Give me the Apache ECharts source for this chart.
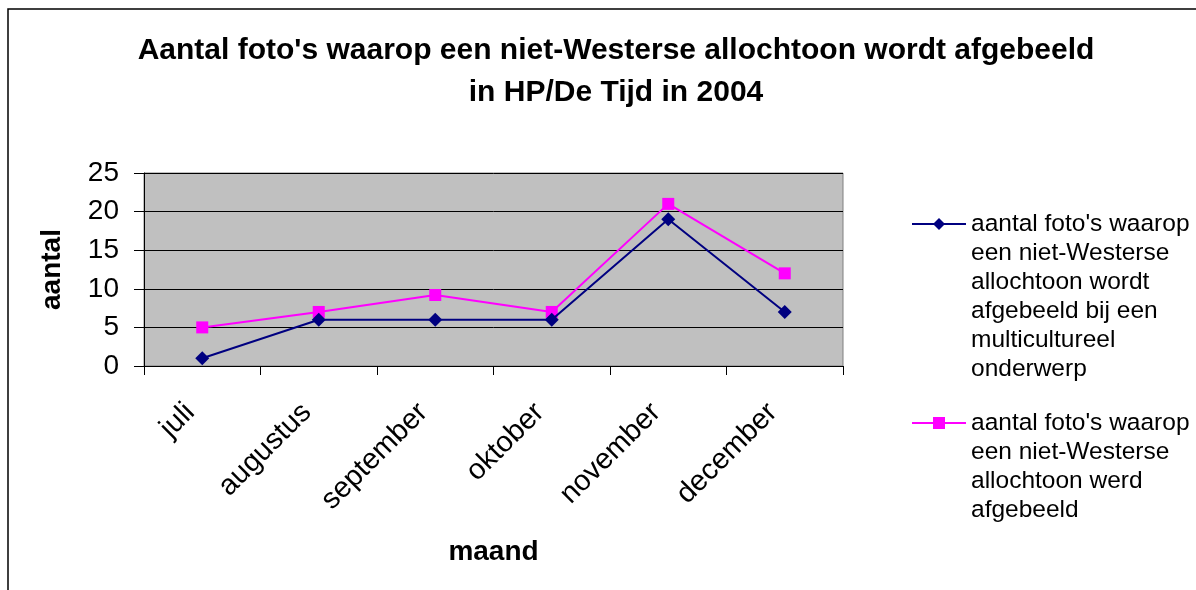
<!DOCTYPE html>
<html>
<head>
<meta charset="utf-8">
<script src="https://cdn.jsdelivr.net/npm/echarts@6/dist/echarts.min.js"></script>
<style>
    html, body { margin: 0; padding: 0; background: #fff; }
    #chart { width: 1196px; height: 590px; }
</style>
</head>
<body>
<div id="chart"></div>
<script>
// data
const months = ['juli', 'augustus', 'september', 'oktober', 'november', 'december'];
const multicultureel = [1, 6, 6, 6, 19, 7];
const totaal = [5, 7, 9.2, 7, 21, 12];
const yTicks = { min: 0, max: 25, interval: 5 };

const nameMulti = "aantal foto's waarop een niet-Westerse allochtoon wordt afgebeeld bij een multicultureel onderwerp";
const nameTotaal = "aantal foto's waarop een niet-Westerse allochtoon werd afgebeeld";

const legendLines = {
    [nameMulti]: ["aantal foto's waarop", "een niet-Westerse", "allochtoon wordt", "afgebeeld bij een", "multicultureel", "onderwerp"],
    [nameTotaal]: ["aantal foto's waarop", "een niet-Westerse", "allochtoon werd", "afgebeeld"]
};

const FONT = "'Liberation Sans', Arial, sans-serif";
const LH = 29;

// legend text gets centred on the icon, so pad it on top with empty lines
// until the first line sits next to the icon (like excel does)
function legendText(nm) {
    const lines = legendLines[nm];
    const blanks = new Array(lines.length - 1).fill(' ');
    return blanks.concat(lines).join('\n');
}

function legendBox(name, iconY) {
    const n = legendLines[name].length;
    const h = (2 * n - 1) * LH;
    return {
        show: true,
        orient: 'vertical',
        left: 911,
        top: iconY - h / 2,
        padding: 0,
        itemWidth: 54,
        itemHeight: 15,
        selectedMode: false,
        formatter: legendText,
        textStyle: {
            fontFamily: FONT,
            fontSize: 24.5,
            color: '#000',
            lineHeight: LH
        },
        data: [name]
    };
}

const chart = echarts.init(document.getElementById('chart'));

const option = {
    backgroundColor: '#fff',
    animation: false,
    title: {
        text: "Aantal foto's waarop een niet-Westerse allochtoon wordt afgebeeld\nin HP/De Tijd in 2004",
        left: 611,
        top: 25,
        textAlign: 'center',
        textStyle: {
            fontFamily: FONT,
            fontSize: 30,
            fontWeight: 'bold',
            color: '#000',
            lineHeight: 42
        }
    },
    legend: [legendBox(nameMulti, 224), legendBox(nameTotaal, 423)],
    graphic: [{
        type: 'rect',
        shape: { x: 8, y: 9, width: 1400, height: 800 },
        style: { fill: 'none', stroke: '#000', lineWidth: 1.5 },
        silent: true
    }],
    grid: {
        left: 144,
        right: 353,
        top: 173,
        bottom: 224,
        show: true,
        backgroundColor: '#C0C0C0',
        borderColor: '#808080',
        borderWidth: 1
    },
    xAxis: {
        type: 'category',
        data: months,
        boundaryGap: true,
        name: 'maand',
        nameLocation: 'middle',
        nameGap: 172,
        nameTextStyle: { fontFamily: FONT, fontSize: 28, fontWeight: 'bold', color: '#000' },
        axisLine: { lineStyle: { color: '#000', width: 1 } },
        axisTick: { show: true, length: 9, lineStyle: { color: '#000' } },
        axisLabel: {
            rotate: 45,
            margin: 30,
            interval: 0,
            padding: [0, 17, 0, 0],
            fontFamily: FONT,
            fontSize: 29,
            color: '#000'
        },
        splitLine: { show: false }
    },
    yAxis: {
        type: 'value',
        min: yTicks.min,
        max: yTicks.max,
        interval: yTicks.interval,
        name: 'aantal',
        nameLocation: 'middle',
        nameGap: 78,
        nameRotate: 90,
        nameTextStyle: { fontFamily: FONT, fontSize: 28, fontWeight: 'bold', color: '#000' },
        axisLine: { show: true, lineStyle: { color: '#000', width: 1 } },
        axisTick: { show: true, length: 10, lineStyle: { color: '#000' } },
        axisLabel: {
            margin: 25,
            fontFamily: FONT,
            fontSize: 28,
            color: '#000'
        },
        splitLine: { show: true, lineStyle: { color: '#000', width: 1 } }
    },
    series: [
        {
            name: nameMulti,
            type: 'line',
            data: multicultureel,
            symbol: 'diamond',
            symbolSize: 14,
            showAllSymbol: true,
            lineStyle: { color: '#000080', width: 2 },
            itemStyle: { color: '#000080' },
            z: 3
        },
        {
            name: nameTotaal,
            type: 'line',
            data: totaal,
            symbol: 'rect',
            symbolSize: 12,
            showAllSymbol: true,
            lineStyle: { color: '#FF00FF', width: 2 },
            itemStyle: { color: '#FF00FF' },
            z: 2
        }
    ]
};

option && chart.setOption(option);
</script>
</body>
</html>
